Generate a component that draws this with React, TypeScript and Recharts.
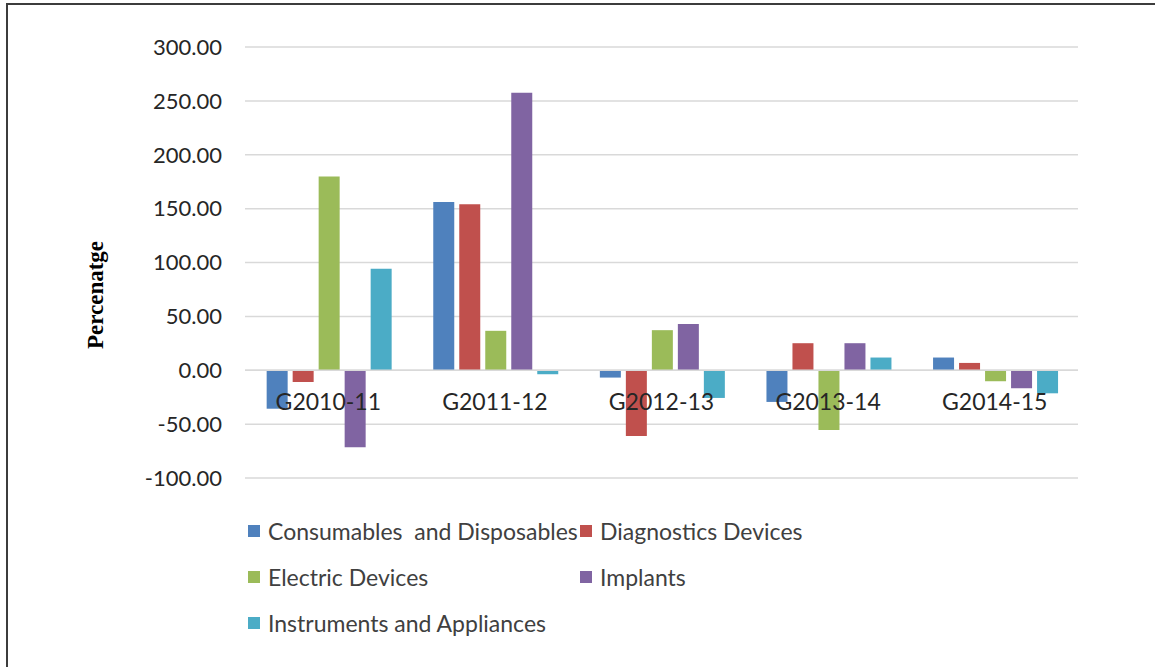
import React from 'react';
import { BarChart, Bar, XAxis, YAxis, CartesianGrid, ReferenceLine } from 'recharts';

// Year-on-year growth (%) by device segment
const years = ['G2010-11', 'G2011-12', 'G2012-13', 'G2013-14', 'G2014-15'];
const consumables = [-35.7, 156.2, -6.8, -29.4, 11.8];
const diagnostics = [-10.9, 154.0, -61.0, 25.1, 6.8];
const electric = [179.8, 36.6, 37.2, -55.4, -10.2];
const implants = [-71.4, 257.5, 43.0, 25.1, -16.7];
const instruments = [94.1, -3.7, -25.7, 11.8, -21.4];
const yTicks = [-100, -50, 0, 50, 100, 150, 200, 250, 300];

const SERIES = [
  { key: 'consumables', name: 'Consumables  and Disposables', color: '#4f81bd', values: consumables },
  { key: 'diagnostics', name: 'Diagnostics Devices', color: '#c0504d', values: diagnostics },
  { key: 'electric', name: 'Electric Devices', color: '#9bbb59', values: electric },
  { key: 'implants', name: 'Implants', color: '#8064a2', values: implants },
  { key: 'instruments', name: 'Instruments and Appliances', color: '#4bacc6', values: instruments },
];

const data = years.map((year, i) => {
  const row: Record<string, string | number> = { year };
  SERIES.forEach(s => { row[s.key] = s.values[i]; });
  return row;
});

const FONT = 'Lato, "Open Sans", sans-serif';
const TEXT = '#404040';

// category labels sit just under the zero line, like an axis crossing at 0
const renderCategoryTick = (props: any) => {
  const { x, y, payload } = props;
  return (
    <text x={x} y={Number(y) - 68} textAnchor="middle" fill="#262626" fontFamily={FONT} fontSize={23}>
      {payload.value}
    </text>
  );
};

export default function App() {
  return (
    <div style={{ position: 'absolute', left: 0, top: 0, width: 1155, height: 667, background: '#fff', overflow: 'hidden' }}>
      <div style={{ position: 'absolute', left: 6, top: 3, width: 1300, height: 800, borderTop: '2px solid #3c3c3c', borderLeft: '2px solid #3c3c3c' }} />

      <div
        style={{
          position: 'absolute', left: 96, top: 295, transform: 'translate(-50%, -50%) rotate(-90deg)',
          fontFamily: '"Liberation Serif", "Times New Roman", serif', fontWeight: 'bold', fontSize: 23, color: '#000', whiteSpace: 'nowrap',
        }}
      >
        Percenatge
      </div>

      <div style={{ position: 'absolute', left: 0, top: 0 }}>
        <BarChart width={1155} height={500} data={data}
          margin={{ top: 47, right: 77, left: 145, bottom: 0 }}
          barCategoryGap="13%" barGap={5}>
          <CartesianGrid vertical={false} stroke="#d9d9d9" strokeWidth={1.5} />
          <XAxis dataKey="year" axisLine={false} tickLine={false} tickSize={0} tickMargin={0} height={22}
            tick={renderCategoryTick} interval={0} />
          <YAxis domain={[-100, 300]} ticks={yTicks} width={100} axisLine={false} tickLine={false}
            tickSize={0} tickMargin={23} interval={0}
            tick={{ fill: '#262626', fontSize: 22, fontFamily: FONT }}
            tickFormatter={(v: number) => v.toFixed(2)} />
          <ReferenceLine y={0} stroke="#d9d9d9" strokeWidth={1.5} />
          {SERIES.map(s => (
            <Bar key={s.key} dataKey={s.key} name={s.name} fill={s.color} isAnimationActive={false} />
          ))}
        </BarChart>
      </div>

      {SERIES.map((s, i) => (
        <div key={s.key}
          style={{
            position: 'absolute', left: i % 2 === 0 ? 248 : 580, top: 517 + Math.floor(i / 2) * 46,
            display: 'flex', alignItems: 'center', fontFamily: FONT, fontSize: 23, color: TEXT, whiteSpace: 'pre', lineHeight: '28px',
          }}>
          <span style={{ width: 12, height: 12, background: s.color, marginRight: 8, display: 'inline-block' }} />
          {s.name}
        </div>
      ))}
    </div>
  );
}
